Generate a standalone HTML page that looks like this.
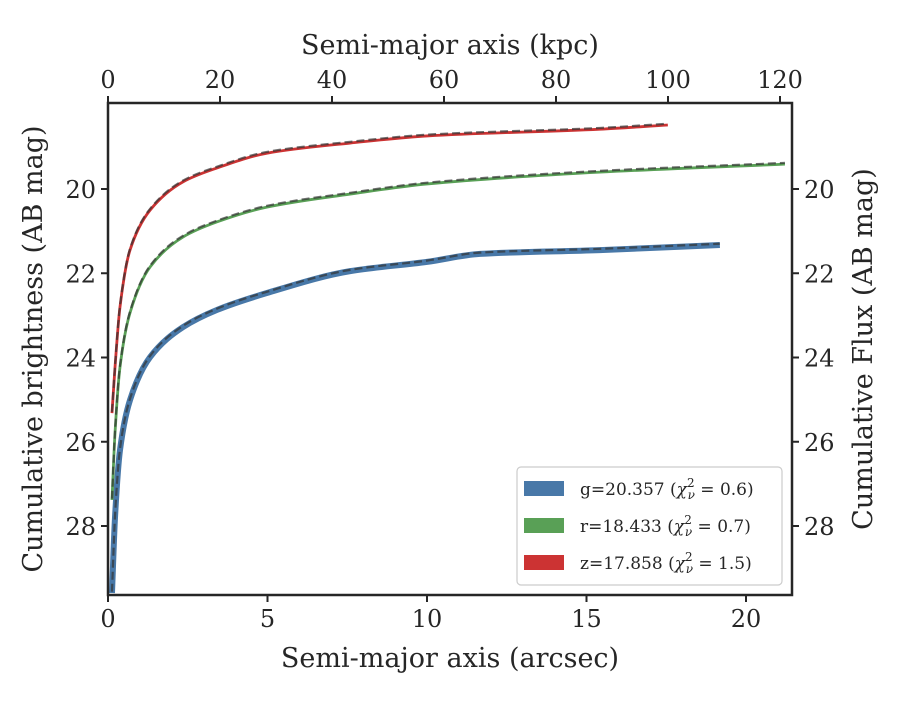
<!DOCTYPE html>
<html><head><meta charset="utf-8"><style>
body{margin:0;background:#fff}
svg text{font-family:"DejaVu Serif","Liberation Serif",serif;fill:#262626}
</style></head><body>
<svg id="c" width="900" height="700" xmlns="http://www.w3.org/2000/svg"></svg>
<script>
const xG=[0.125,0.22,0.376,0.69,1.32,2.35,3.42,4.98,7.59,10.0,15.42,17.55];
const yR=[25.32,24.23,22.80,21.45,20.50,19.83,19.50,19.15,18.91,18.74,18.58,18.48];
const xGr=[0.125,0.22,0.376,0.69,1.32,2.35,3.42,4.98,7.59,10.0,15.42,21.22];
const yGr=[27.38,25.79,24.23,22.94,21.85,21.14,20.78,20.43,20.12,19.88,19.60,19.41];
const xB=[0.125,0.22,0.376,0.69,1.32,2.35,3.42,4.98,7.59,10.0,11.66,15.42,19.18];
const yB=[29.59,27.79,26.20,25.01,23.99,23.28,22.87,22.47,21.95,21.73,21.54,21.45,21.33];
const xTicks=[0,5,10,15,20];
const yTicks=[20,22,24,26,28];
const kpcTicks=[0,20,40,60,80,100,120];
const legendLabels=["g=20.357","r=18.433","z=17.858"];
const chiVals=["0.6","0.7","1.5"];

const L=108,R=792,T=103,B=595;
const sx=v=>L+v*31.9, sy=v=>189+(v-20)*42.125, sk=v=>L+v*5.6;
const svg=document.getElementById('c');
const NS="http://www.w3.org/2000/svg";
function mk(t,a,p){const e=document.createElementNS(NS,t);for(const k in a)e.setAttribute(k,a[k]);(p||svg).appendChild(e);return e;}
function path(xs,ys){
 const X=xs.map(sx),Y=ys.map(sy),n=X.length;
 const d=[],m=new Array(n);
 for(let i=0;i<n-1;i++)d.push((Y[i+1]-Y[i])/(X[i+1]-X[i]));
 m[0]=d[0];m[n-1]=d[n-2];
 for(let i=1;i<n-1;i++){if(d[i-1]*d[i]<=0)m[i]=0;else{const h0=X[i]-X[i-1],h1=X[i+1]-X[i];
  const w1=2*h1+h0,w2=h1+2*h0;m[i]=(w1+w2)/(w1/d[i-1]+w2/d[i]);}}
 let s=`M${X[0]},${Y[0]}`;
 for(let i=0;i<n-1;i++){const h=(X[i+1]-X[i])/3;
  s+=` C${X[i]+h},${Y[i]+m[i]*h} ${X[i+1]-h},${Y[i+1]-m[i+1]*h} ${X[i+1]},${Y[i+1]}`;}
 return s;}
const series=[[xB,yB,"#4878a8",6,"g"],[xGr,yGr,"#59a056",2.8,"r"],[xG,yR,"#cc3333",2.8,"z"]];
series.forEach(s=>{
 let e=mk('path',{d:path(s[0],s[1]),fill:'none',stroke:s[2],'stroke-width':s[3]});
 
 
 let f=mk('path',{d:path(s[0],s[1].map(v=>v-0.03)),fill:'none',stroke:'#333','stroke-opacity':0.7,'stroke-width':2.2,'stroke-dasharray':'8,4'});
 
 
});
let fr=mk('rect',{x:L,y:T,width:R-L,height:B-T,fill:'none',stroke:'#262626','stroke-width':2.5});


xTicks.forEach(v=>{mk('line',{x1:sx(v),x2:sx(v),y1:B,y2:B+7,stroke:'#262626','stroke-width':2});
 const t=mk('text',{x:sx(v),y:B+32,'font-size':24,'text-anchor':'middle'});t.textContent=v;
 
 });
kpcTicks.forEach(v=>{mk('line',{x1:sk(v),x2:sk(v),y1:T,y2:T-7,stroke:'#262626','stroke-width':2});
 const t=mk('text',{x:sk(v),y:T-15,'font-size':24,'text-anchor':'middle'});t.textContent=v;
 
 });
yTicks.forEach(v=>{[[L,L-7,L-12,'end'],[R,R+7,R+12,'start']].forEach(a=>{
 mk('line',{x1:a[0],x2:a[1],y1:sy(v),y2:sy(v),stroke:'#262626','stroke-width':2});
 const t=mk('text',{x:a[2],y:sy(v)+9,'font-size':24,'text-anchor':a[3]});t.textContent=v;
 
 });});
function lab(txt,x,y,rot,name){const t=mk('text',{x:x,y:y,'font-size':27,'text-anchor':'middle',transform:rot?`rotate(-90 ${x} ${y})`:''});t.textContent=txt;
 
 }
lab("Semi-major axis (arcsec)",450,667,false,'x-axis-title');
lab("Semi-major axis (kpc)",450,54,false,'top-axis-title');
lab("Cumulative brightness (AB mag)",42,349,true,'y-axis-title');
lab("Cumulative Flux (AB mag)",872,349,true,'right-axis-title');
const lg=mk('g',{});


mk('rect',{x:517,y:467,width:265,height:118,rx:4,fill:'#fff','fill-opacity':0.9,stroke:'#ccc','stroke-width':1.2},lg);
["#4878a8","#59a056","#cc3333"].forEach((c,i)=>{const y=481+i*37;
 mk('rect',{x:524,y:y,width:40,height:15,fill:c},lg);
 const t=mk('text',{x:580,y:y+14,'font-size':17},lg);
 t.innerHTML=`${legendLabels[i]} (<tspan font-style="italic">χ</tspan><tspan font-size="12" dy="-8">2</tspan><tspan font-size="12" font-style="italic" dx="-7" dy="12">ν</tspan><tspan dy="-4"> = ${chiVals[i]})</tspan>`;
 
 });
</script>
</body></html>
